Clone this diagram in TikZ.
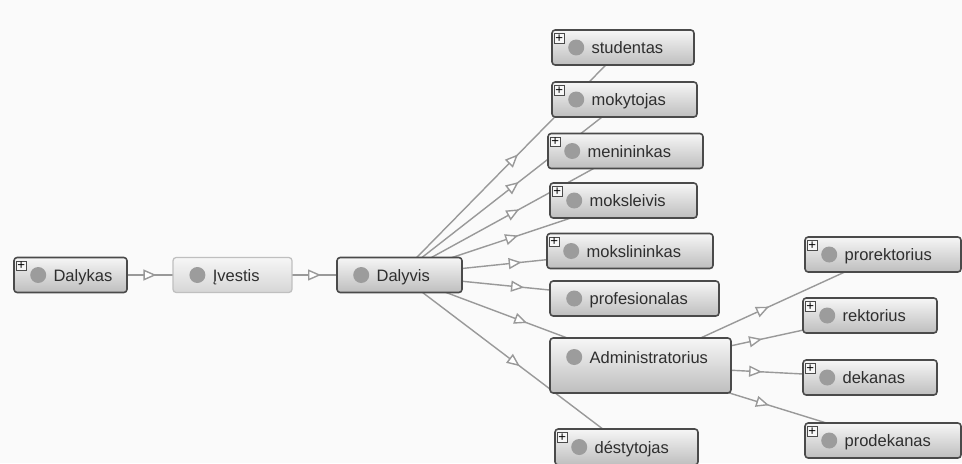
\documentclass[tikz,border=0pt]{standalone}
\usepackage{fontspec}
\setmainfont{Liberation Sans}
\usetikzlibrary{positioning,calc,arrows.meta,decorations.markings,backgrounds}
\definecolor{boxline}{HTML}{4A4A4A}
\definecolor{boxtop}{HTML}{F6F6F6}
\definecolor{boxbot}{HTML}{BEBEBE}
\definecolor{dotgray}{HTML}{9C9C9C}
\definecolor{edgegray}{HTML}{999999}
\definecolor{textgray}{HTML}{2E2E2E}
\definecolor{pagebg}{HTML}{FAFAFA}

\tikzset{
  entity/.style={rectangle, rounded corners=1.8pt, draw=boxline, line width=0.9pt, top color=boxtop, bottom color=boxbot, inner sep=0pt, minimum height=0.7cm},
  softentity/.style={entity, draw=gray!50, line width=0.7pt, bottom color=gray!32},
  dotmark/.style={circle, fill=dotgray, inner sep=0pt, minimum size=0.32cm},
  lbl/.style={anchor=base west, inner sep=0pt, text=textgray, font=\fontsize{9.4}{11}\selectfont},
  plusbox/.style={rectangle, draw=boxline, fill=gray!6, line width=0.5pt, inner sep=0pt, minimum size=0.19cm, font=\fontsize{7.5}{7.5}\selectfont},
  link/.style={draw=edgegray, line width=0.8pt, postaction={decorate}, decoration={markings, mark=at position 0.53 with {\arrow[edgegray, line width=0.8pt]{Triangle[open, fill=white, length=0.26cm, width=0.22cm]}}}}
}

\begin{document}
\begin{tikzpicture}[x=0.02cm, y=-0.02cm]
\useasboundingbox (0,0) rectangle (962,463);

% chain on the left
  \node[entity, minimum width=2.26cm] (dlk) at (70.5,275) {};
  \node[dotmark] (dlkdot) at ($(dlk.west)+(25,0)$) {};
  \node[lbl] (dlktxt) at ($(dlk.west)+(40,6)$) {Dalykas};
  \node[plusbox] (dlkplus) at ($(dlk.north west)+(8,9)$) {+};

  \node[softentity, minimum width=2.38cm] (ivs) at (232.5,275) {};
  \node[dotmark] (ivsdot) at ($(ivs.west)+(25,0)$) {};
  \node[lbl] (ivstxt) at ($(ivs.west)+(40,6)$) {Įvestis};

  \node[entity, minimum width=2.5cm] (dlv) at (399.5,275) {};
  \node[dotmark] (dlvdot) at ($(dlv.west)+(25,0)$) {};
  \node[lbl] (dlvtxt) at ($(dlv.west)+(40,6)$) {Dalyvis};

% column of Dalyvis kinds
  \node[entity, minimum width=2.84cm] (stud) at (623,47.5) {};
  \node[dotmark] (studdot) at ($(stud.west)+(25,0)$) {};
  \node[lbl] (studtxt) at ($(stud.west)+(40,6)$) {studentas};
  \node[plusbox] (studplus) at ($(stud.north west)+(8,9)$) {+};

  \node[entity, minimum width=2.9cm] (mok) at (624.5,99.5) {};
  \node[dotmark] (mokdot) at ($(mok.west)+(25,0)$) {};
  \node[lbl] (moktxt) at ($(mok.west)+(40,6)$) {mokytojas};
  \node[plusbox] (mokplus) at ($(mok.north west)+(8,9)$) {+};

  \node[entity, minimum width=3.1cm] (men) at (625.5,151) {};
  \node[dotmark] (mendot) at ($(men.west)+(25,0)$) {};
  \node[lbl] (mentxt) at ($(men.west)+(40,6)$) {menininkas};
  \node[plusbox] (menplus) at ($(men.north west)+(8,9)$) {+};

  \node[entity, minimum width=2.94cm] (mksl) at (623.5,200.5) {};
  \node[dotmark] (mksldot) at ($(mksl.west)+(25,0)$) {};
  \node[lbl] (mksltxt) at ($(mksl.west)+(40,6)$) {moksleivis};
  \node[plusbox] (mkslplus) at ($(mksl.north west)+(8,9)$) {+};

  \node[entity, minimum width=3.32cm] (mkln) at (630,251) {};
  \node[dotmark] (mklndot) at ($(mkln.west)+(25,0)$) {};
  \node[lbl] (mklntxt) at ($(mkln.west)+(40,6)$) {mokslininkas};
  \node[plusbox] (mklnplus) at ($(mkln.north west)+(8,9)$) {+};

  \node[entity, minimum width=3.38cm] (prof) at (634.5,298.5) {};
  \node[dotmark] (profdot) at ($(prof.west)+(25,0)$) {};
  \node[lbl] (proftxt) at ($(prof.west)+(40,6)$) {profesionalas};

  \node[entity, minimum width=3.62cm, minimum height=1.1cm] (adm) at (640.5,365.5) {};
  \node[dotmark] (admdot) at ($(adm.west)+(25,-8.5)$) {};
  \node[lbl] (admtxt) at ($(adm.west)+(40,-2.5)$) {Administratorius};

  \node[entity, minimum width=2.86cm, minimum height=0.72cm] (dest) at (626.5,447) {};
  \node[dotmark] (destdot) at ($(dest.west)+(25,0)$) {};
  \node[lbl] (desttxt) at ($(dest.west)+(40,6)$) {déstytojas};
  \node[plusbox] (destplus) at ($(dest.north west)+(8,9)$) {+};

% Administratorius kinds
  \node[entity, minimum width=3.12cm] (pror) at (883,254.5) {};
  \node[dotmark] (prordot) at ($(pror.west)+(25,0)$) {};
  \node[lbl] (prortxt) at ($(pror.west)+(40,6)$) {prorektorius};
  \node[plusbox] (prorplus) at ($(pror.north west)+(8,9)$) {+};

  \node[entity, minimum width=2.68cm] (rekt) at (870,315.5) {};
  \node[dotmark] (rektdot) at ($(rekt.west)+(25,0)$) {};
  \node[lbl] (rekttxt) at ($(rekt.west)+(40,6)$) {rektorius};
  \node[plusbox] (rektplus) at ($(rekt.north west)+(8,9)$) {+};

  \node[entity, minimum width=2.68cm] (dek) at (870,377.5) {};
  \node[dotmark] (dekdot) at ($(dek.west)+(25,0)$) {};
  \node[lbl] (dektxt) at ($(dek.west)+(40,6)$) {dekanas};
  \node[plusbox] (dekplus) at ($(dek.north west)+(8,9)$) {+};

  \node[entity, minimum width=3.12cm] (prod) at (883,440.5) {};
  \node[dotmark] (proddot) at ($(prod.west)+(25,0)$) {};
  \node[lbl] (prodtxt) at ($(prod.west)+(40,6)$) {prodekanas};
  \node[plusbox] (prodplus) at ($(prod.north west)+(8,9)$) {+};

% connectors behind the boxes
\begin{scope}[on background layer]
  \fill[pagebg] (0,0) rectangle (962,463);
  \draw[link] (dlk.center) -- (ivs.center);
  \draw[link] (ivs.center) -- (dlv.center);
  \foreach \kid in {stud,mok,men,mksl,mkln,prof,adm,dest}
    \draw[link] (dlv.center) -- (\kid.center);
  \foreach \kid in {pror,rekt,dek,prod}
    \draw[link] (adm.center) -- (\kid.center);
\end{scope}

\end{tikzpicture}
\end{document}
